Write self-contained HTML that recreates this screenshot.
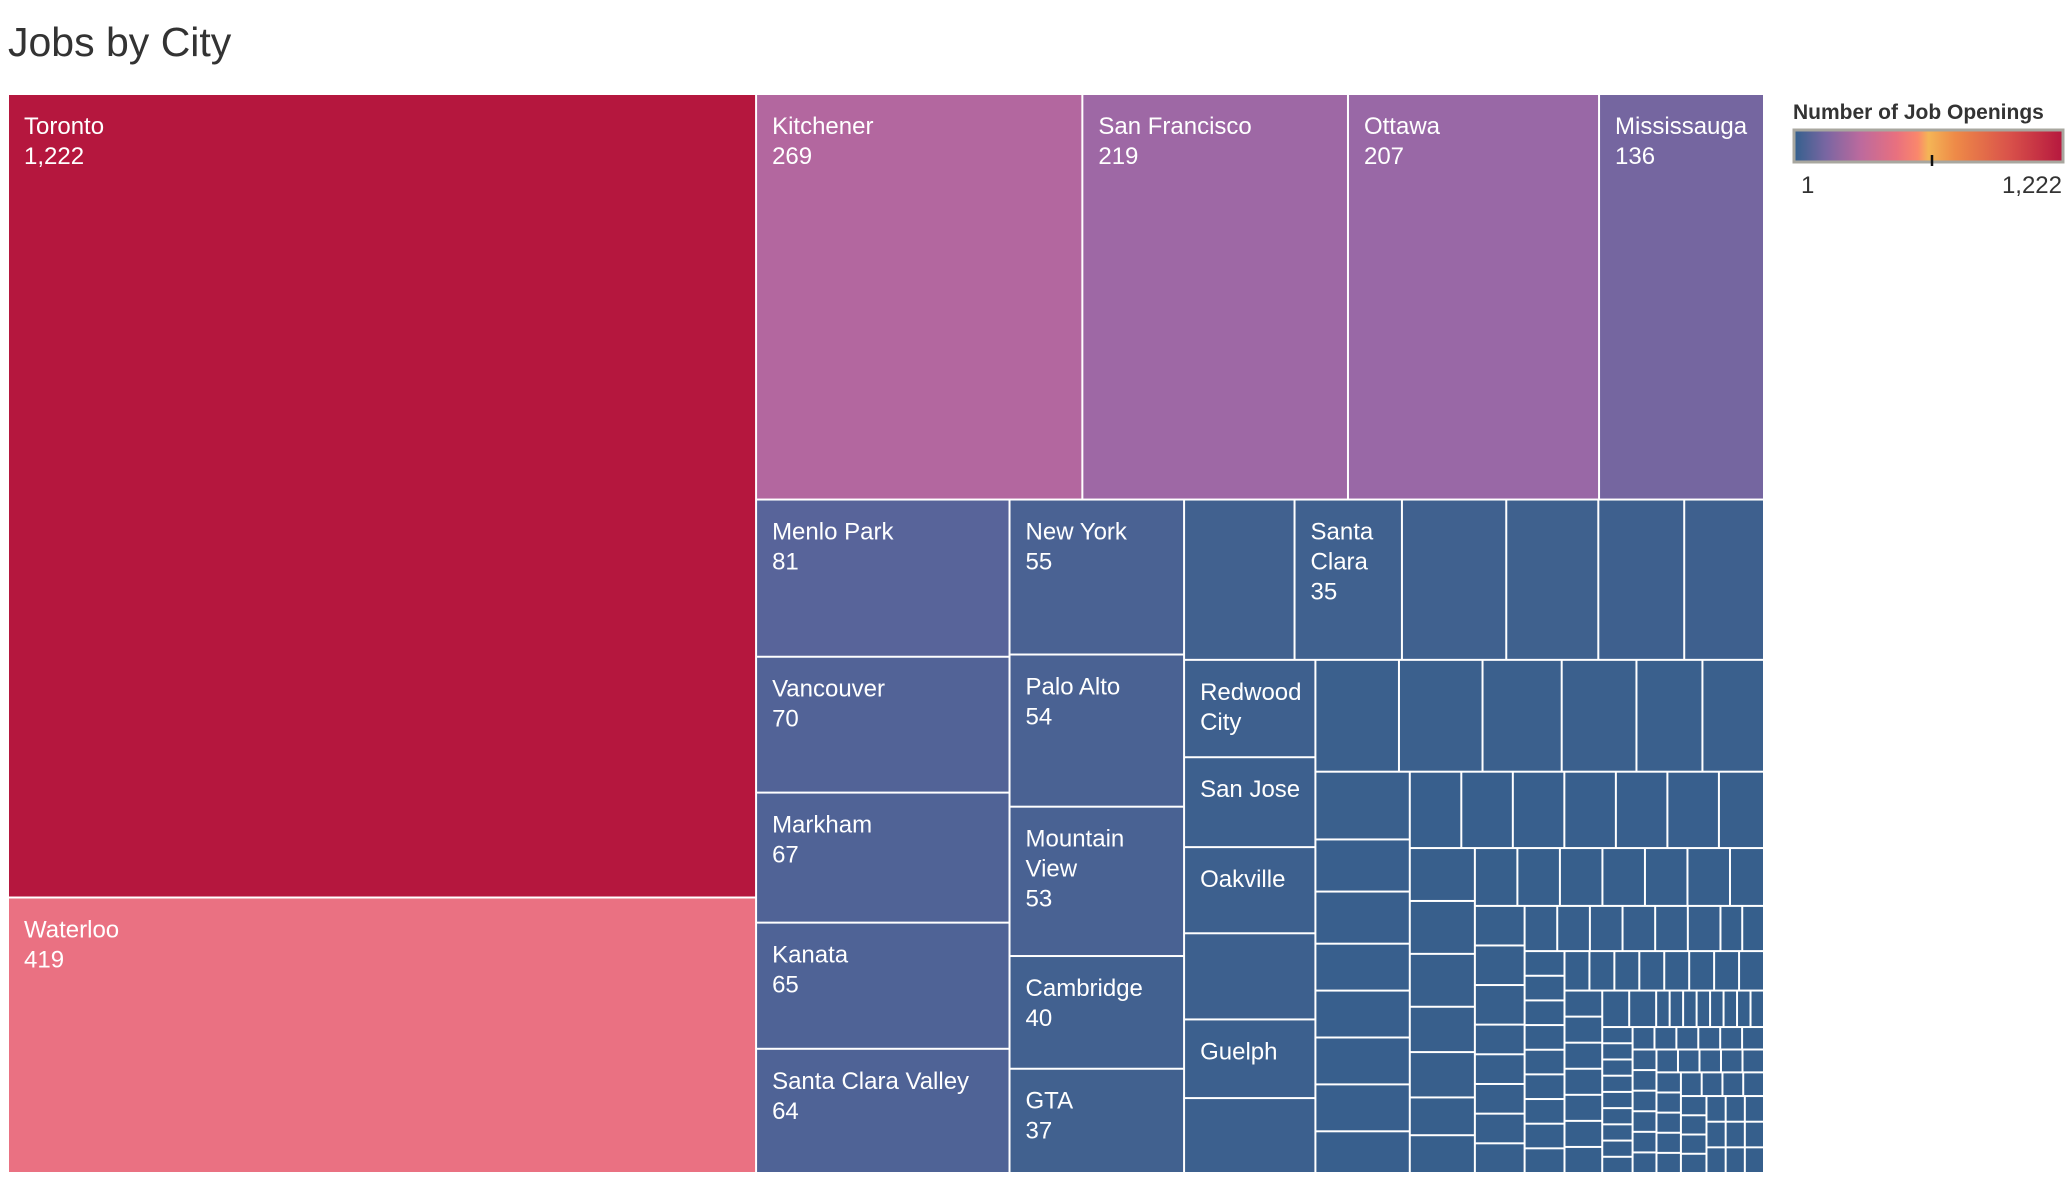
<!DOCTYPE html>
<html><head><meta charset="utf-8"><style>
html,body{margin:0;padding:0;background:#fff;}
svg{display:block;font-family:"Liberation Sans",sans-serif;}
</style></head><body>
<svg id="chart" width="2072" height="1180" viewBox="0 0 2072 1180" xmlns="http://www.w3.org/2000/svg">
<defs>
<linearGradient id="lg" x1="0" x2="1" y1="0" y2="0">
<stop offset="0" stop-color="#33608d"/><stop offset="0.12" stop-color="#7a66a2"/><stop offset="0.25" stop-color="#bd6a9d"/><stop offset="0.38" stop-color="#e8707f"/><stop offset="0.46" stop-color="#fa876c"/><stop offset="0.5" stop-color="#f4b556"/><stop offset="0.6" stop-color="#ee8a48"/><stop offset="0.8" stop-color="#d9524a"/><stop offset="1" stop-color="#b5173e"/>
</linearGradient>
</defs>
<text x="8" y="56" font-size="41" fill="#333">Jobs by City</text>
<g id="cells"></g>
<g>
<text x="1793" y="119" font-size="21" font-weight="bold" fill="#333">Number of Job Openings</text>
<rect x="1794" y="130" width="269" height="32" fill="url(#lg)" stroke="#a8a79f" stroke-width="3"/>
<line x1="1932" x2="1932" y1="155" y2="166" stroke="#111" stroke-width="2.5"/>
<text x="1801" y="193" font-size="24" fill="#333">1</text>
<text x="2062" y="193" font-size="24" fill="#333" text-anchor="end">1,222</text>
</g>
</svg>
<script>
const values = [1222,419,269,219,207,136,81,70,67,65,64,55,54,53,40,37,36,35,34,30,28,26,26,24,23,23,21,20,19,19,18,17,15,14,13,10,10,9,9,9,9,8,8,8,8,8,8,8,7,7,7,7,6,6,5,5,5,5,5,5,5,5,4,4,4,4,3,3,3,3,3,3,3,3,3,3,3,2,2,2,2,2,2,2,2,2,2,2,2,2,2,2,2,2,2,2,2,2,2,2,2,2,2,2,2,1,1,1,1,1,1,1,1,1,1,1,1,1,1,1,1,1,1,1,1,1,1,1,1,1,1,1,1,1,1,1,1,1,1,1,1,1,1,1,1,1,1,1,1,1,1,1,1,1,1,1,1,1,1,1,1];
const names = ["Toronto","Waterloo","Kitchener","San Francisco","Ottawa","Mississauga","Menlo Park","Vancouver","Markham","Kanata","Santa Clara Valley","New York","Palo Alto","Mountain View","Cambridge","GTA","","Santa Clara","","","","","Redwood City","San Jose","Oakville","","Guelph",""];
const stripCounts = [2,4,5,5,6,6,6,8,7,7,7,8,8,9,8,7,10,9];
const colorStops = [[0,"#365f8c"],[0.03,"#41618f"],[0.066,"#58649a"],[0.11,"#7566a0"],[0.17,"#9a68a6"],[0.22,"#b3679f"],[0.34,"#ea7082"],[0.45,"#fa8a6c"],[0.5,"#f4b556"],[0.6,"#ef8a49"],[0.8,"#d9524a"],[1,"#b5173e"]];
const maxV = 1222;
function hex(c){return [1,3,5].map(i=>parseInt(c.substr(i,2),16));}
function color(v){
  const t=Math.max(0,Math.min(1,(v-1)/(maxV-1)));
  for(let i=1;i<colorStops.length;i++){
    if(t<=colorStops[i][0]){
      const a=colorStops[i-1],b=colorStops[i];const f=(t-a[0])/(b[0]-a[0]);
      const A=hex(a[1]),B=hex(b[1]);
      return "rgb("+A.map((x,k)=>Math.round(x+(B[k]-x)*f)).join(",")+")";
    }
  }
  return colorStops[colorStops.length-1][1];
}
function worst(strip,side,scale){
  const s=strip.reduce((a,b)=>a+b,0)*scale;const th=s/side;let w=0;
  strip.forEach(v=>{const l=v*scale/th;w=Math.max(w,l/th,th/l);});return w;
}
function layout(vals,R){
  const total=vals.reduce((a,b)=>a+b,0);
  let {x,y,w,h}=R;const scale=w*h/total;const out=[];let i=0,k=0;
  while(i<vals.length){
    const side=Math.min(w,h);let cnt;
    if(k<stripCounts.length){cnt=stripCounts[k];}
    else{cnt=1;while(i+cnt<vals.length&&worst(vals.slice(i,i+cnt+1),side,scale)<=worst(vals.slice(i,i+cnt),side,scale))cnt++;}
    k++;
    const strip=vals.slice(i,i+cnt);const s=strip.reduce((a,b)=>a+b,0)*scale;
    if(w>=h){const cw=s/h;let yy=y;strip.forEach(v=>{const ch=v*scale/cw;out.push([x,yy,cw,ch]);yy+=ch;});x+=cw;w-=cw;}
    else{const rh=s/w;let xx=x;strip.forEach(v=>{const cw=v*scale/rh;out.push([xx,y,cw,rh]);xx+=cw;});y+=rh;h-=rh;}
    i+=cnt;
  }
  return out;
}
const NS="http://www.w3.org/2000/svg";
const g=document.getElementById("cells");
const rects=layout(values,{x:8,y:94,w:1756,h:1079});
const ctx=document.createElement("canvas").getContext("2d");
ctx.font="24px 'Liberation Sans'";
rects.forEach((r,i)=>{
  const [x,y,w,h]=r;
  const el=document.createElementNS(NS,"rect");
  
  
  el.setAttribute("x",x+1);el.setAttribute("y",y+1);
  el.setAttribute("width",Math.max(0,w-2));el.setAttribute("height",Math.max(0,h-2));
  el.setAttribute("fill",color(values[i]));
  g.appendChild(el);
  const nm=names[i]||"";
  if(!nm)return;
  const avail=w-30;const words=nm.split(" ");const lines=[];let cur="";
  for(const wd of words){
    const t=cur?cur+" "+wd:wd;
    if(ctx.measureText(t).width<=avail)cur=t;
    else{if(cur)lines.push(cur);cur=wd;}
  }
  if(cur)lines.push(cur);
  if(lines.some(l=>ctx.measureText(l).width>avail+4))return;
  lines.push(values[i].toLocaleString("en-US"));
  lines.forEach((ln,j)=>{
    const by=y+40+30*j;
    if(by+24>y+h)return;
    const t=document.createElementNS(NS,"text");
    
    
    t.setAttribute("x",x+16);t.setAttribute("y",by);
    t.setAttribute("font-size","24");t.setAttribute("fill","#fff");
    t.textContent=ln;g.appendChild(t);
  });
});
</script>
</body></html>
